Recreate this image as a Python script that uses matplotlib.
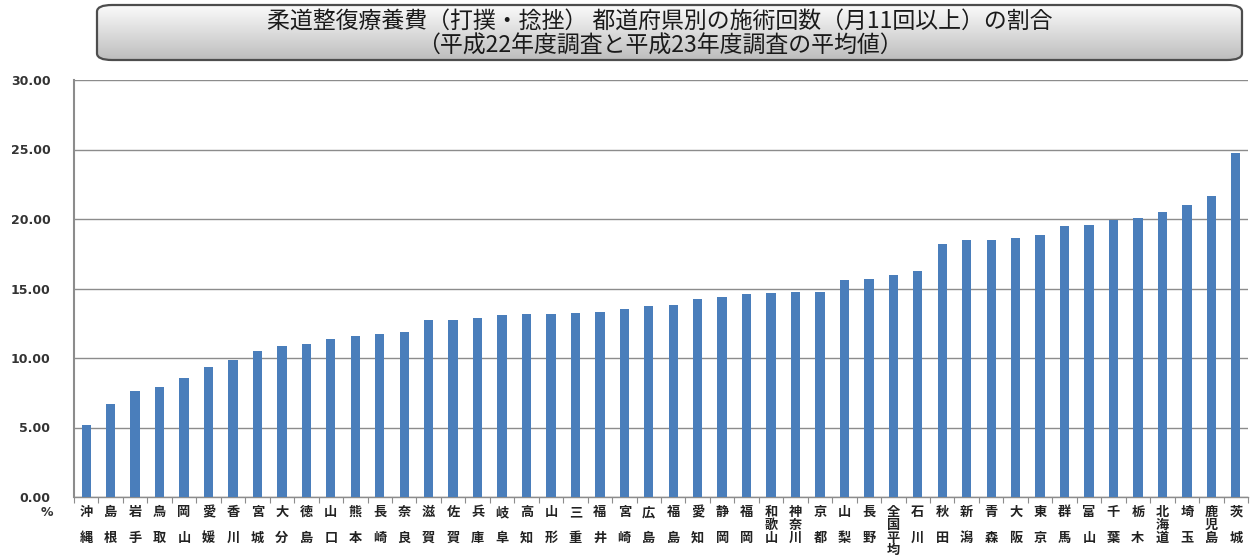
import matplotlib
matplotlib.use("Agg")
import matplotlib.pyplot as plt
import numpy as np
from matplotlib.patches import FancyBboxPatch
from matplotlib import transforms

plt.rcParams['font.family'] = ['Noto Sans CJK JP', 'DejaVu Sans']

# 都道府県（全国平均を含む）
prefectures = [
    "沖縄", "島根", "岩手", "鳥取", "岡山", "愛媛", "香川", "宮城", "大分", "徳島",
    "山口", "熊本", "長崎", "奈良", "滋賀", "佐賀", "兵庫", "岐阜", "高知", "山形",
    "三重", "福井", "宮崎", "広島", "福島", "愛知", "静岡", "福岡", "和歌山", "神奈川",
    "京都", "山梨", "長野", "全国平均", "石川", "秋田", "新潟", "青森", "大阪", "東京",
    "群馬", "富山", "千葉", "栃木", "北海道", "埼玉", "鹿児島", "茨城",
]
# 施術回数（月11回以上）の割合 (%)
ratios = [
    5.15, 6.72, 7.62, 7.93, 8.57, 9.37, 9.85, 10.52, 10.86, 11.00,
    11.40, 11.56, 11.70, 11.90, 12.70, 12.75, 12.90, 13.08, 13.16, 13.20,
    13.25, 13.28, 13.52, 13.72, 13.78, 14.22, 14.37, 14.58, 14.66, 14.72,
    14.74, 15.62, 15.68, 16.00, 16.25, 18.18, 18.49, 18.52, 18.62, 18.88,
    19.50, 19.60, 19.90, 20.10, 20.50, 21.04, 21.67, 24.74,
]
yticks = [0, 5, 10, 15, 20, 25, 30]
title_line1 = "柔道整復療養費（打撲・捻挫） 都道府県別の施術回数（月11回以上）の割合"
title_line2 = "（平成22年度調査と平成23年度調査の平均値）"

W, H = 1253, 556
fig = plt.figure(figsize=(W / 100, H / 100), dpi=100)
fig.patch.set_facecolor("white")

ax = fig.add_axes([74 / W, 1 - 497 / H, (1248 - 74) / W, (497 - 80) / H])
x = np.arange(len(prefectures))
ax.bar(x, ratios, width=0.38, color="#4A7EBB", zorder=3)

ax.set_xlim(-0.5, len(prefectures) - 0.5)
ax.set_ylim(0, 30)
ax.set_yticks(yticks)
ax.set_yticklabels([f"{v:.2f}" for v in yticks], fontsize=9, color="#333333",
                   family=["DejaVu Sans"], fontweight="bold")
ax.tick_params(axis="y", length=0, pad=17)
ax.yaxis.grid(True, color="#8c8c8c", linewidth=1.0, zorder=0)
ax.set_axisbelow(True)

# category boundary ticks on the x axis
ax.set_xticks(np.arange(-0.5, len(prefectures) + 0.5, 1.0))
ax.set_xticklabels([])
ax.tick_params(axis="x", length=4, width=0.8, color="#8c8c8c", direction="out")

for side in ["top", "right"]:
    ax.spines[side].set_visible(False)
ax.spines["left"].set_color("#8c8c8c")
ax.spines["left"].set_linewidth(1.5)
ax.spines["bottom"].set_color("#8c8c8c")
ax.spines["bottom"].set_linewidth(1.0)

# vertical prefecture labels, one character per row
trans = transforms.blended_transform_factory(ax.transData, fig.transFigure)
row0 = 1 - 512 / H
row_step = 12.8 / H
for xi, name in zip(x, prefectures):
    n = len(name)
    rows = [0, 2] if n == 2 else list(range(n))
    for ch, r in zip(name, rows):
        ax.text(xi, row0 - r * row_step, ch, transform=trans, ha="center", va="center",
                fontsize=9.5, color="#222222", fontweight="bold", clip_on=False)

fig.text(47 / W, row0, "%", ha="center", va="center", fontsize=9,
         color="#333333", fontweight="bold", family=["DejaVu Sans"])

# title box with vertical gradient
tx0, ty0, tx1, ty1 = 97 / W, 1 - 60 / H, 1242 / W, 1 - 5 / H
box = FancyBboxPatch((tx0, ty0), tx1 - tx0, ty1 - ty0,
                     boxstyle="round,pad=0,rounding_size=0.012",
                     transform=fig.transFigure, facecolor="none",
                     edgecolor="#4d4d4d", linewidth=1.6, zorder=5)
fig.patches.append(box)
bg_ax = fig.add_axes([0, 0, 1, 1], zorder=-1)
bg_ax.set_axis_off()
bg_ax.set_xlim(0, 1)
bg_ax.set_ylim(0, 1)
grad = np.linspace(0, 1, 256).reshape(-1, 1)
img = bg_ax.imshow(grad, extent=(tx0, tx1, ty0, ty1), aspect="auto",
                   cmap=matplotlib.colors.LinearSegmentedColormap.from_list(
                       "g", ["#bdbdbd", "#fbfbfb"]), origin="lower")
clip = FancyBboxPatch((tx0, ty0), tx1 - tx0, ty1 - ty0,
                      boxstyle="round,pad=0,rounding_size=0.012",
                      transform=bg_ax.transData, facecolor="none", edgecolor="none")
bg_ax.add_patch(clip)
img.set_clip_path(clip)

fig.text(660 / W, 1 - 28 / H, title_line1, ha="center", va="baseline",
         fontsize=16.5, color="#1a1a1a", zorder=6)
fig.text(660 / W, 1 - 53 / H, title_line2, ha="center", va="baseline",
         fontsize=16.5, color="#1a1a1a", zorder=6)

fig.savefig("out.png", dpi=100, facecolor="white")
